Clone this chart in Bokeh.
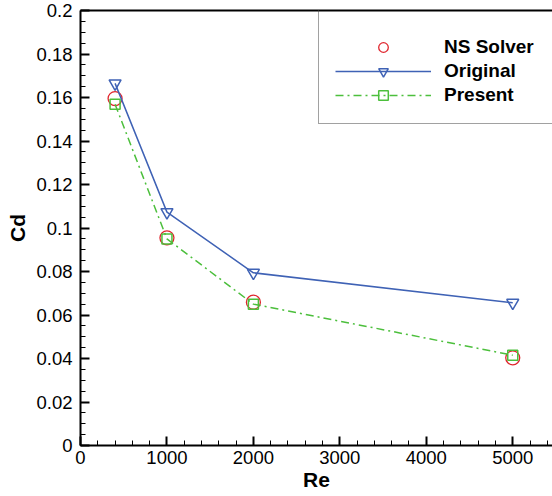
from bokeh.plotting import figure
from bokeh.models import (Range1d, LinearAxis, SingleIntervalTicker, FixedTicker,
                          CustomJSTickFormatter, Legend, LegendItem)
from bokeh.embed import file_html
from bokeh.resources import INLINE

# ---- data ----
re_vals = [400, 1000, 2000, 5000]
cd_ns_solver = [0.1595, 0.0955, 0.0659, 0.0403]
cd_original = [0.1665, 0.1073, 0.0794, 0.0656]
cd_present = [0.1569, 0.0950, 0.0650, 0.0415]
series_labels = ["NS Solver", "Original", "Present"]
x_label = "Re"
y_label = "Cd"

RED = "#e0262e"
BLUE = "#3f62b5"
GREEN = "#4cbf3c"
FONT = "Liberation Sans"

p = figure(width=552, height=496, output_backend="svg", toolbar_location=None,
           x_range=Range1d(0, 5460), y_range=Range1d(0, 0.2),
           min_border_left=80, min_border_right=0, min_border_top=10,
           min_border_bottom=51)
p.outline_line_color = None
p.grid.grid_line_color = None
p.background_fill_color = "white"
p.border_fill_color = "white"


def style_axis(ax):
    ax.axis_line_width = 2
    ax.axis_line_color = "black"
    ax.major_tick_in = 9
    ax.major_tick_out = 0
    ax.minor_tick_in = 5
    ax.minor_tick_out = 0
    ax.major_tick_line_width = 2
    ax.minor_tick_line_width = 1
    ax.major_tick_line_color = "black"
    ax.minor_tick_line_color = "black"
    ax.major_label_text_font = FONT
    ax.major_label_text_font_size = "18.5px"
    ax.major_label_text_color = "black"
    ax.axis_label_text_font = FONT
    ax.axis_label_text_font_size = "21px"
    ax.axis_label_text_font_style = "bold"
    ax.axis_label_text_color = "black"


xa = p.xaxis[0]
style_axis(xa)
xa.ticker = SingleIntervalTicker(interval=1000, num_minor_ticks=5)
xa.axis_label = x_label
xa.major_label_standoff = 5
xa.axis_label_standoff = 1

ya = p.yaxis[0]
style_axis(ya)
ya.ticker = SingleIntervalTicker(interval=0.02, num_minor_ticks=4)
ya.formatter = CustomJSTickFormatter(code="return String(Number(tick.toFixed(2)));")
ya.axis_label = y_label
ya.major_label_standoff = 8
ya.axis_label_standoff = 4

top = LinearAxis(ticker=FixedTicker(ticks=[]), major_label_text_font_size="0px",
                 major_tick_out=0, major_tick_in=0, minor_tick_out=0, minor_tick_in=0,
                 axis_line_width=2, axis_line_color="black")
p.add_layout(top, "above")

r_ns = p.scatter(re_vals, cd_ns_solver, marker="circle", size=14,
                 line_color=RED, fill_color=None, line_width=1.3)
r_or_l = p.line(re_vals, cd_original, line_color=BLUE, line_width=1.5)
r_or_m = p.scatter(re_vals, cd_original, marker="inverted_triangle", size=12,
                   line_color=BLUE, fill_color=None, line_width=1.5)
r_pr_l = p.line(re_vals, cd_present, line_color=GREEN, line_width=1.5,
                line_dash="8 4 2 4")
r_pr_m = p.scatter(re_vals, cd_present, marker="square", size=10,
                   line_color=GREEN, fill_color=None, line_width=1.5)

legend = Legend(items=[
    LegendItem(label=series_labels[0], renderers=[r_ns]),
    LegendItem(label=series_labels[1], renderers=[r_or_l, r_or_m]),
    LegendItem(label=series_labels[2], renderers=[r_pr_l, r_pr_m]),
], location=(238, 321))
legend.label_text_font = FONT
legend.label_text_font_style = "bold"
legend.label_text_font_size = "19px"
legend.label_text_color = "black"
legend.border_line_color = "#444444"
legend.border_line_width = 1
legend.background_fill_alpha = 0
legend.padding = 16
legend.spacing = 0
legend.glyph_width = 96
legend.glyph_height = 24
legend.label_height = 24
legend.label_standoff = 13
legend.label_width = 150
legend.margin = 0
legend.title = " "
legend.title_text_font_size = "8px"
legend.title_standoff = 0
p.add_layout(legend)

open("out.html", "w").write(file_html(p, INLINE))
